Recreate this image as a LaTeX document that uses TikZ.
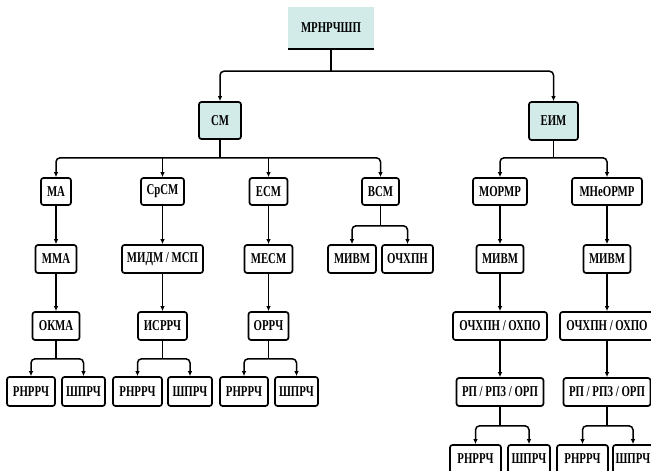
\documentclass[tikz,border=0pt]{standalone}
\usepackage{fontspec}
\setmainfont{Liberation Serif}
\newfontfamily\labfont[FakeStretch=0.72]{Liberation Serif}
\usetikzlibrary{arrows.meta}
\definecolor{teal0}{HTML}{D2EBE8}
\tikzset{
  bx/.style={draw, line width=1.7pt, rounded corners=2.5pt, fill=white, inner sep=0pt,
    minimum height=28pt, font=\labfont\bfseries\fontsize{15}{15}\selectfont},
  hd/.style={bx, fill=teal0},
  conn/.style={line width=1.5pt, rounded corners=4pt},
  arr/.style={conn, -{Latex[length=5pt,width=4.5pt]}}
}
\begin{document}
\begin{tikzpicture}[x=1pt,y=-1pt]
\useasboundingbox (0,0) rectangle (651,471);
% top
\node[fill=teal0, inner sep=0pt, minimum width=86pt, minimum height=42pt,
  font=\labfont\bfseries\fontsize{15}{15}\selectfont] (top) at (331,28) {МРНРЧШП};
\draw[line width=2pt] (top.south west) -- (top.south east);
% level 1
\node[hd, minimum width=42pt, minimum height=37pt] (sm) at (220,120.5) {СМ};
\node[hd, minimum width=49pt, minimum height=38pt] (eim) at (553.5,121) {ЕИМ};
% level 2
\node[bx, minimum width=30pt, minimum height=27pt] (ma) at (56,191.5) {МА};
\node[bx, minimum width=43pt, minimum height=27pt] (srsm) at (162.5,191.5) {СрСМ};
\node[bx, minimum width=38pt, minimum height=27pt] (esm) at (268.5,191.5) {ЕСМ};
\node[bx, minimum width=37pt, minimum height=27pt] (vsm) at (380.5,191.5) {ВСМ};
\node[bx, minimum width=54pt, minimum height=27pt] (mormr) at (500,191.5) {МОРМР};
\node[bx, minimum width=70pt, minimum height=27pt] (mneormr) at (607,191.5) {МНеОРМР};
% level 3
\node[bx, minimum width=41pt] (mma) at (56,259) {ММА};
\node[bx, minimum width=81pt] (midm) at (162.5,259) {МИДМ / МСП};
\node[bx, minimum width=48pt] (mesm) at (268.5,259) {МЕСМ};
\node[bx, minimum width=48pt] (mivma) at (352,259) {МИВМ};
\node[bx, minimum width=51pt] (ochxpn) at (407.5,259) {ОЧХПН};
\node[bx, minimum width=47pt] (mivmb) at (500,259) {МИВМ};
\node[bx, minimum width=47pt] (mivmc) at (607,259) {МИВМ};
% level 4
\node[bx, minimum width=47pt] (okma) at (56,326) {ОКМА};
\node[bx, minimum width=49pt] (isrrch) at (162.5,326) {ИСРРЧ};
\node[bx, minimum width=40pt] (orrch) at (268.5,326) {ОРРЧ};
\node[bx, minimum width=94pt] (oxa) at (500,326) {ОЧХПН / ОХПО};
\node[bx, minimum width=94pt] (oxb) at (607,326) {ОЧХПН / ОХПО};
% level 5
\node[bx, minimum width=48pt, minimum height=29pt] (r1) at (31,391.5) {РНРРЧ};
\node[bx, minimum width=43pt, minimum height=29pt] (s1) at (83.5,391.5) {ШПРЧ};
\node[bx, minimum width=49pt, minimum height=29pt] (r2) at (137.5,391.5) {РНРРЧ};
\node[bx, minimum width=44pt, minimum height=29pt] (s2) at (190,391.5) {ШПРЧ};
\node[bx, minimum width=48pt, minimum height=29pt] (r3) at (244,391.5) {РНРРЧ};
\node[bx, minimum width=43pt, minimum height=29pt] (s3) at (296.5,391.5) {ШПРЧ};
\node[bx, minimum width=87pt] (rpa) at (500,392) {РП / РПЗ / ОРП};
\node[bx, minimum width=87pt] (rpb) at (607,392) {РП / РПЗ / ОРП};
% level 6
\node[bx, minimum width=51pt] (r4) at (475.5,459) {РНРРЧ};
\node[bx, minimum width=42pt] (s4) at (529,459) {ШПРЧ};
\node[bx, minimum width=51pt] (r5) at (582.5,459) {РНРРЧ};
\node[bx, minimum width=40pt] (s5) at (633,459) {ШПРЧ};

% connectors: top
\coordinate (b0) at ([yshift=-22pt]top.south);
\draw[conn] (top.south) -- (b0);
\draw[arr] (b0) -| (sm.north);
\draw[arr] (b0) -| (eim.north);
% SM
\coordinate (b1) at ([yshift=-18pt]sm.south);
\draw[conn] (sm.south) -- (b1);
\draw[arr] (b1) -| (ma.north);
\draw[arr] (b1) -| (vsm.north);
\draw[arr] (srsm.north |- b1) -- (srsm.north);
\draw[arr] (esm.north |- b1) -- (esm.north);
% EIM
\coordinate (b2) at ([yshift=-17pt]eim.south);
\draw[conn] (eim.south) -- (b2);
\draw[arr] (b2) -| (mormr.north);
\draw[arr] (b2) -| (mneormr.north);
% verticals
\draw[arr] (ma.south) -- (mma.north);
\draw[arr] (srsm.south) -- (midm.north);
\draw[arr] (esm.south) -- (mesm.north);
\draw[arr] (mormr.south) -- (mivmb.north);
\draw[arr] (mneormr.south) -- (mivmc.north);
\draw[arr] (mma.south) -- (okma.north);
\draw[arr] (midm.south) -- (isrrch.north);
\draw[arr] (mesm.south) -- (orrch.north);
\draw[arr] (mivmb.south) -- (oxa.north);
\draw[arr] (mivmc.south) -- (oxb.north);
\draw[arr] (oxa.south) -- (rpa.north);
\draw[arr] (oxb.south) -- (rpb.north);
% VSM split
\coordinate (b3) at ([yshift=-20pt]vsm.south);
\draw[conn] (vsm.south) -- (b3);
\draw[arr] (b3) -| (mivma.north);
\draw[arr] (b3) -| (ochxpn.north);
% level 4 splits
\coordinate (b4) at ([yshift=-18pt]okma.south);
\draw[conn] (okma.south) -- (b4);
\draw[arr] (b4) -| (r1.north);
\draw[arr] (b4) -| (s1.north);
\coordinate (b5) at ([yshift=-18pt]isrrch.south);
\draw[conn] (isrrch.south) -- (b5);
\draw[arr] (b5) -| (r2.north);
\draw[arr] (b5) -| (s2.north);
\coordinate (b6) at ([yshift=-18pt]orrch.south);
\draw[conn] (orrch.south) -- (b6);
\draw[arr] (b6) -| (r3.north);
\draw[arr] (b6) -| (s3.north);
\coordinate (b7) at ([yshift=-19pt]rpa.south);
\draw[conn] (rpa.south) -- (b7);
\draw[arr] (b7) -| (r4.north);
\draw[arr] (b7) -| (s4.north);
\coordinate (b8) at ([yshift=-19pt]rpb.south);
\draw[conn] (rpb.south) -- (b8);
\draw[arr] (b8) -| (r5.north);
\draw[arr] (b8) -| (s5.north);
\end{tikzpicture}
\end{document}
